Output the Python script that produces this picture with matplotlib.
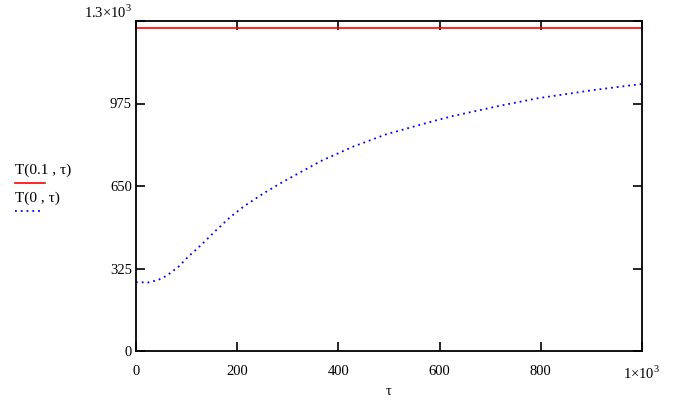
import numpy as np
import matplotlib.pyplot as plt
from matplotlib.lines import Line2D

plt.rcParams['font.family'] = ['Liberation Serif', 'DejaVu Serif']
plt.rcParams['mathtext.fontset'] = 'custom'
plt.rcParams['mathtext.rm'] = 'Liberation Serif'

# T(0.1, tau): constant level
tau_red = [0, 1000]
T_red = [1272, 1272]

# T(0, tau): values
tau_blue = [0, 24, 44, 61, 84, 103, 130, 159, 186, 212, 252, 291,
            367, 429, 495, 588, 627, 719, 792, 904, 1000]
T_blue = [271, 270, 280, 297, 332, 371, 420, 477, 527, 568, 621, 667,
          750, 805, 854, 906, 926, 966, 995, 1028, 1052]

xticks = [0, 200, 400, 600, 800, 1000]
xlabels = ['0', '200', '400', '600', '800', r'1$\times$10$^3$']
yticks = [0, 325, 650, 975, 1300]
ylabels = ['0', '325', '650', '975', r'1.3$\times$10$^3$']

fig = plt.figure(figsize=(6.75, 4.09), dpi=100)
ax = fig.add_axes([136 / 675, 58 / 409, 506 / 675, 330 / 409])

ax.plot(tau_red, T_red, color='#ff0000', lw=1.2)
ax.plot(tau_blue, T_blue, color='#0000ff', lw=1.3, linestyle=(0, (1, 2.2)))

ax.set_xlim(0, 1000)
ax.set_ylim(0, 1300)
ax.set_xticks(xticks)
ax.set_xticklabels(xlabels)
ax.set_yticks(yticks)
ax.set_yticklabels(ylabels)
ax.tick_params(direction='in', length=6.5, width=1.2, labelsize=10.5,
               top=True, right=True, color='black')
ax.tick_params(axis='x', pad=10)
ax.tick_params(axis='y', pad=3)
# top y label sits a little higher in the original
ax.get_yticklabels()[-1].set_va('bottom')
for s in ax.spines.values():
    s.set_linewidth(1.3)

ax.set_xlabel('τ', fontsize=10.5, labelpad=2)

# Mathcad style legend at the left
fig.text(15 / 675, 1 - 170 / 409, 'T(0.1 , τ)', fontsize=11, va='center', ha='left')
fig.add_artist(Line2D([15 / 675, 45 / 675], [1 - 183 / 409, 1 - 183 / 409],
                      color='#ff0000', lw=1.2))
fig.text(15 / 675, 1 - 198 / 409, 'T(0 , τ)', fontsize=11, va='center', ha='left')
fig.add_artist(Line2D([15 / 675, 42 / 675], [1 - 211 / 409, 1 - 211 / 409],
                      color='#0000ff', lw=1.3, linestyle=(0, (1, 2.2))))

fig.savefig('out.png', dpi=100)
